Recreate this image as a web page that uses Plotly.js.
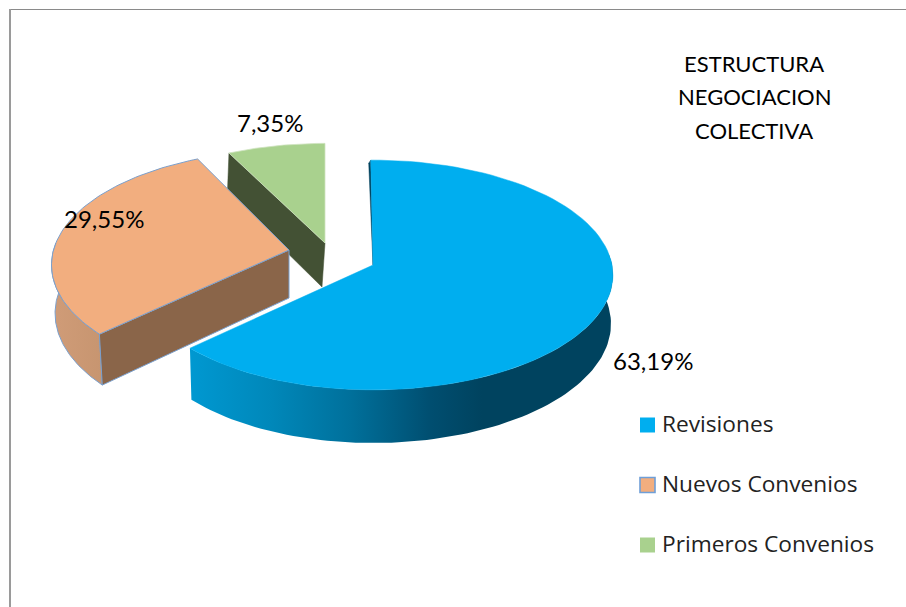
<!DOCTYPE html>
<html><head><meta charset="utf-8">
<script src="https://cdn.plot.ly/plotly-3.0.1.min.js"></script>
<style>html,body{margin:0;padding:0;background:#fff}#c{width:906px;height:607px}</style>
</head><body><div id="c"></div>
<script>
const categories = ['Revisiones','Nuevos Convenios','Primeros Convenios'];
const values = [63.19,29.55,7.35];
const faceColors = ['#00AEEF','#F2AE7F','#A9D18E'];
const titleLines = ['ESTRUCTURA','NEGOCIACION','COLECTIVA'];

const K=0.087,R=239,RY=114;
const total=values.reduce((a,b)=>a+b,0);
const D2R=Math.PI/180;
const geom=[
 {ax:373,ay:265,sx:1,sl:0.99,sy:1,depth:48.5,ldx:0,rot:-0.6,rimDy:0,ls:0.992},
 {ax:289,ay:250,sx:0.99,sl:0.99,sy:1,depth:48,ldx:0,rot:1.8,rimDy:5,ls:0.985},
 {ax:325,ay:243,sx:0.973,sl:0.973,sy:0.95,depth:44,ldx:-3,rot:0,rimDy:0,ls:0.985}
];
let acc=0;
const ranges=values.map((v,i)=>{const a=geom[i].rot+acc/total*360;acc+=v;return [a,geom[i].rot+acc/total*360];});
function sc(g,u){return u<0?g.sl:g.sx;}
function up(g,t){const u=Math.sin(t*D2R),v=-Math.cos(t*D2R),w=1-K*v;
 return [g.ax+sc(g,u)*R*u/w,g.ay+g.rimDy+g.sy*RY*v/w];}
function low(g,t){const u=Math.sin(t*D2R),v=-Math.cos(t*D2R),w=1-K*v;
 return [g.ax+g.ldx+g.ls*sc(g,u)*R*u/w,g.ay+g.rimDy+g.sy*RY*v/w+g.depth/w];}
function arc(f,g,a,b,n=90){const o=[];for(let i=0;i<=n;i++)o.push(f(g,a+(b-a)*i/n));return o;}
function poly(pts,opt){pts=pts.concat([pts[0]]);
 return Object.assign({type:'scatter',mode:'lines',x:pts.map(p=>p[0]),y:pts.map(p=>p[1]),fill:'toself',
  line:{width:0},hoverinfo:'skip',showlegend:false},opt);}
const face=i=>[[geom[i].ax,geom[i].ay]].concat(arc(up,geom[i],ranges[i][0],ranges[i][1]));
const side=(i,a,b)=>arc(up,geom[i],a,b).concat(arc(low,geom[i],a,b).reverse());
const wall=(i,t)=>{const g=geom[i];return [[g.ax,g.ay],up(g,t),low(g,t),[g.ax+g.ldx,g.ay+g.depth]];};

const edge='#7BA0CD';
const traces=[
 // green
 poly(wall(2,ranges[2][0]),{fillcolor:'#435134',line:{color:'#435134',width:0.5}}),
 poly(face(2),{fillcolor:faceColors[2],line:{color:'#CFE3C0',width:0.8}}),
 // orange
 poly(side(1,ranges[1][0],276),{fillgradient:{type:'horizontal',colorscale:[[0,'#D09C78'],[1,'#C79570']]},line:{color:edge,width:1}}),
 poly(wall(1,ranges[1][0]),{fillcolor:'#8A6549',line:{color:edge,width:1}}),
 poly(face(1),{fillcolor:faceColors[1],line:{color:edge,width:1}}),
 // blue
 poly([[geom[0].ax,geom[0].ay],up(geom[0],ranges[0][0]),(p=>[p[0]-2,p[1]+3])(up(geom[0],ranges[0][0]))],{fillcolor:'#00435F',line:{color:'#00435F',width:0.5}}),
 poly(side(0,84,ranges[0][1]),{fillgradient:{type:'horizontal',colorscale:[[0,'#0098D1'],[0.19,'#0088BA'],[0.38,'#00709B'],[0.57,'#004E70'],[0.69,'#00435F'],[1,'#00435F']]},line:{width:0}}),
 poly(face(0),{fillcolor:faceColors[0],line:{color:faceColors[0],width:0.5}}),
 // legend swatches
 {type:'scatter',mode:'markers',x:[647.5,647.5,647.5],y:[425,485,545],hoverinfo:'skip',showlegend:false,
  marker:{symbol:'square',size:15,color:faceColors,line:{color:['#00AEEF','#6F9FD8','#A9D18E'],width:[0,1.6,0]}}}
];

const fmt=v=>v.toFixed(2).replace('.',',')+'%';
const ann=(text,x,y,size,anchor,extra)=>Object.assign({text,x,y,xref:'x',yref:'y',showarrow:false,xanchor:anchor,yanchor:'middle',
  font:{family:'Lato, Carlito, sans-serif',size,color:'#000'}},extra||{});
const labelPos=[[653,360],[104,218],[270,122]];
const titleY=[63,96,130];
const legendY=[423,483,543];
const annotations=[
 ...values.map((v,i)=>ann(fmt(v),labelPos[i][0],labelPos[i][1],24,'center')),
 ...titleLines.map((t,i)=>ann(t,754,titleY[i],22,'center')),
 ...categories.map((c,i)=>({text:c,x:660,y:legendY[i],xref:'x',yref:'y',showarrow:false,xanchor:'left',yanchor:'middle',
   font:{family:'"Open Sans", sans-serif',size:22.7,color:'#222'}}))
];
const layout={width:906,height:607,margin:{l:0,r:0,t:0,b:0},paper_bgcolor:'#fff',plot_bgcolor:'#fff',showlegend:false,
 xaxis:{range:[0,906],visible:false,fixedrange:true},
 yaxis:{range:[607,0],visible:false,fixedrange:true},
 annotations,
 shapes:[
  {type:'line',xref:'x',yref:'y',x0:9,y0:9.5,x1:906,y1:9.5,line:{color:'#8A8A8A',width:1}},
  {type:'line',xref:'x',yref:'y',x0:10,y0:9,x1:10,y1:607,line:{color:'#9A9A9A',width:2}}
 ]};
Plotly.newPlot('c',traces,layout,{displayModeBar:false,staticPlot:true});
</script></body></html>
